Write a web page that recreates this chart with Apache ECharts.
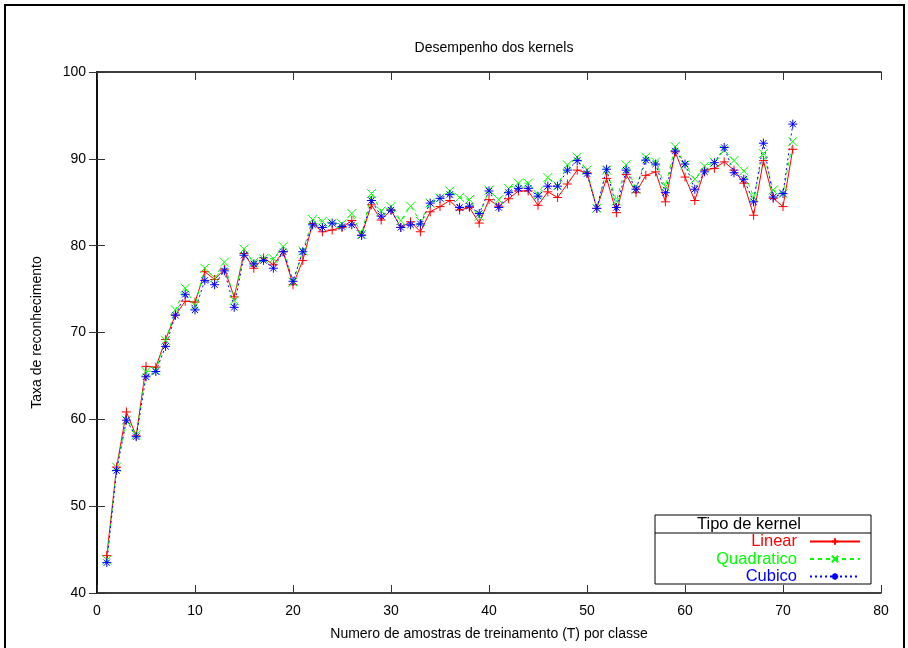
<!DOCTYPE html>
<html>
<head>
<meta charset="utf-8">
<script src="https://cdn.jsdelivr.net/npm/echarts@6/dist/echarts.min.js"></script>
<style>
html,body{margin:0;padding:0;background:#fff;}
#chart{width:908px;height:648px;}
</style>
</head>
<body>
<div id="chart"></div>
<script>
const samples = [1,2,3,4,5,6,7,8,9,10,11,12,13,14,15,16,17,18,19,20,21,22,23,24,25,26,27,28,29,30,31,32,33,34,35,36,37,38,39,40,41,42,43,44,45,46,47,48,49,50,51,52,53,54,55,56,57,58,59,60,61,62,63,64,65,66,67,68,69,70,71];
const linear = [44.3,54.5,60.85,58.1,66.1,66.0,69.2,72.0,73.6,73.5,77.0,76.1,77.3,74.1,79.1,77.4,78.6,77.8,79.3,75.5,78.3,82.55,81.6,81.8,82.1,82.9,81.2,84.7,82.95,84.1,82.1,82.75,81.6,83.9,84.5,85.2,84.1,84.4,82.6,85.3,84.55,85.4,86.3,86.3,84.65,86.2,85.55,87.1,88.7,88.4,84.3,87.75,83.8,88.2,86.1,88.1,88.5,85.05,90.8,87.9,85.2,88.7,88.9,89.65,88.7,87.2,83.5,89.8,85.45,84.5,91.1];
const quadratico = [43.8,54.5,59.9,58.2,65.5,65.6,69.1,72.6,75.1,73.1,77.4,76.3,78.1,73.7,79.6,78.1,78.5,78.5,79.9,75.8,79.4,83.0,82.8,82.6,82.5,83.7,81.3,86.0,84.0,84.5,82.9,84.55,82.8,84.9,85.5,86.3,85.55,85.3,83.4,86.4,85.3,86.6,87.2,87.2,85.9,87.85,86.9,89.3,90.2,88.7,84.3,88.7,85.15,89.3,86.5,90.2,89.65,86.8,91.4,89.3,87.65,89.15,89.6,91.0,89.8,88.6,85.6,90.6,86.4,86.0,92.0];
const cubico = [43.5,54.1,59.9,58.0,64.9,65.5,68.4,72.0,74.4,72.6,76.0,75.5,77.1,72.9,78.9,77.9,78.3,77.4,79.3,75.9,79.3,82.4,82.1,82.6,82.2,82.4,81.2,85.2,83.4,84.1,82.1,82.4,82.5,84.9,85.45,85.9,84.4,84.55,83.7,86.3,84.4,86.1,86.6,86.6,85.7,86.85,86.85,88.7,89.8,88.3,84.3,88.8,84.4,88.7,86.5,89.85,89.4,86.1,90.9,89.4,86.5,88.5,89.55,91.3,88.4,87.65,85.05,91.8,85.6,86.0,94.0];
const seriesNames = ['Linear','Quadratico','Cubico'];
const seriesColors = ['#ff0000','#00ff00','#0000ff'];
const titleText = 'Desempenho dos kernels';
const xName = 'Numero de amostras de treinamento (T) por classe';
const yName = 'Taxa de reconhecimento';
const legendTitle = 'Tipo de kernel';

const FONT = 'Liberation Sans, Arial, sans-serif';
const symPlus = 'path://M0,5L10,5M5,0L5,10';
const symX = 'path://M1,1L9,9M1,9L9,1';
const symStar = 'path://M0,5L10,5M5,0L5,10M1.5,1.5L8.5,8.5M1.5,8.5L8.5,1.5';
const symbols = [symPlus, symX, symStar];
const dashes = ['solid', [4,4], [2,3]];
const values = [linear, quadratico, cubico];

const chart = echarts.init(document.getElementById('chart'), null, {renderer:'canvas'});

function axisCommon(){
  return {
    axisLine:{show:true,lineStyle:{color:'#000',width:1.5}},
    axisTick:{show:true,inside:true,length:8,lineStyle:{color:'#333',width:1}},
    splitLine:{show:false},
    axisLabel:{color:'#000',fontSize:14,fontFamily:FONT,margin:11}
  };
}

const option = {
  animation:false,
  backgroundColor:'#fff',
  title:{text:titleText,left:489,top:36,textAlign:'center',
    textStyle:{fontSize:14,fontWeight:'normal',color:'#000',fontFamily:FONT}},
  grid:{left:97,right:27,top:72,bottom:55,containLabel:false},
  xAxis:[
    Object.assign(axisCommon(),{type:'value',min:0,max:80,interval:10,position:'bottom',
      name:xName,nameLocation:'middle',nameGap:34,
      nameTextStyle:{color:'#000',fontSize:14,fontFamily:FONT}}),
    Object.assign(axisCommon(),{type:'value',min:0,max:80,interval:10,position:'top',
      axisLabel:{show:false}})
  ],
  yAxis:[
    Object.assign(axisCommon(),{type:'value',min:40,max:100,interval:10,position:'left',
      name:yName,nameLocation:'middle',nameGap:53,
      nameTextStyle:{color:'#000',fontSize:14,fontFamily:FONT}}),
    Object.assign(axisCommon(),{type:'value',min:40,max:100,interval:10,position:'right',
      axisLabel:{show:false}})
  ],
  legend:{
    orient:'vertical',
    right:47,
    top:533,
    align:'right',
    itemWidth:50,
    itemHeight:8,
    itemGap:0.5,
    padding:0,
    data:seriesNames.map((n,i)=>({name:n,textStyle:{color:seriesColors[i]}})),
    textStyle:{fontSize:16.5,fontFamily:FONT,lineHeight:17,padding:[0,8,0,0]}
  },
  graphic:[
    {type:'rect',shape:{x:5,y:5,width:899,height:700},style:{fill:null,stroke:'#000',lineWidth:2},silent:true,z:100},
    {type:'rect',shape:{x:655,y:515,width:216,height:69},style:{fill:null,stroke:'#000',lineWidth:1},silent:true,z:100},
    {type:'line',shape:{x1:655,y1:533,x2:871,y2:533},style:{stroke:'#000',lineWidth:1},silent:true,z:100},
    {type:'text',x:801,y:524.5,style:{text:legendTitle,fill:'#000',font:'16.5px '+FONT,textAlign:'right',textVerticalAlign:'middle'},silent:true,z:100}
  ],
  series:seriesNames.map((n,i)=>({
    name:n,
    type:'line',
    data:samples.map((x,j)=>[x, values[i][j]]),
    symbol:symbols[i],
    symbolSize:9,
    showSymbol:true,
    color:seriesColors[i],
    lineStyle:{color:seriesColors[i],width:1,type:dashes[i]},
    itemStyle:{color:seriesColors[i],borderColor:seriesColors[i],borderWidth:1},
    emphasis:{disabled:true},
    xAxisIndex:0,
    yAxisIndex:0
  }))
};
chart.setOption(option);
</script>
</body>
</html>
